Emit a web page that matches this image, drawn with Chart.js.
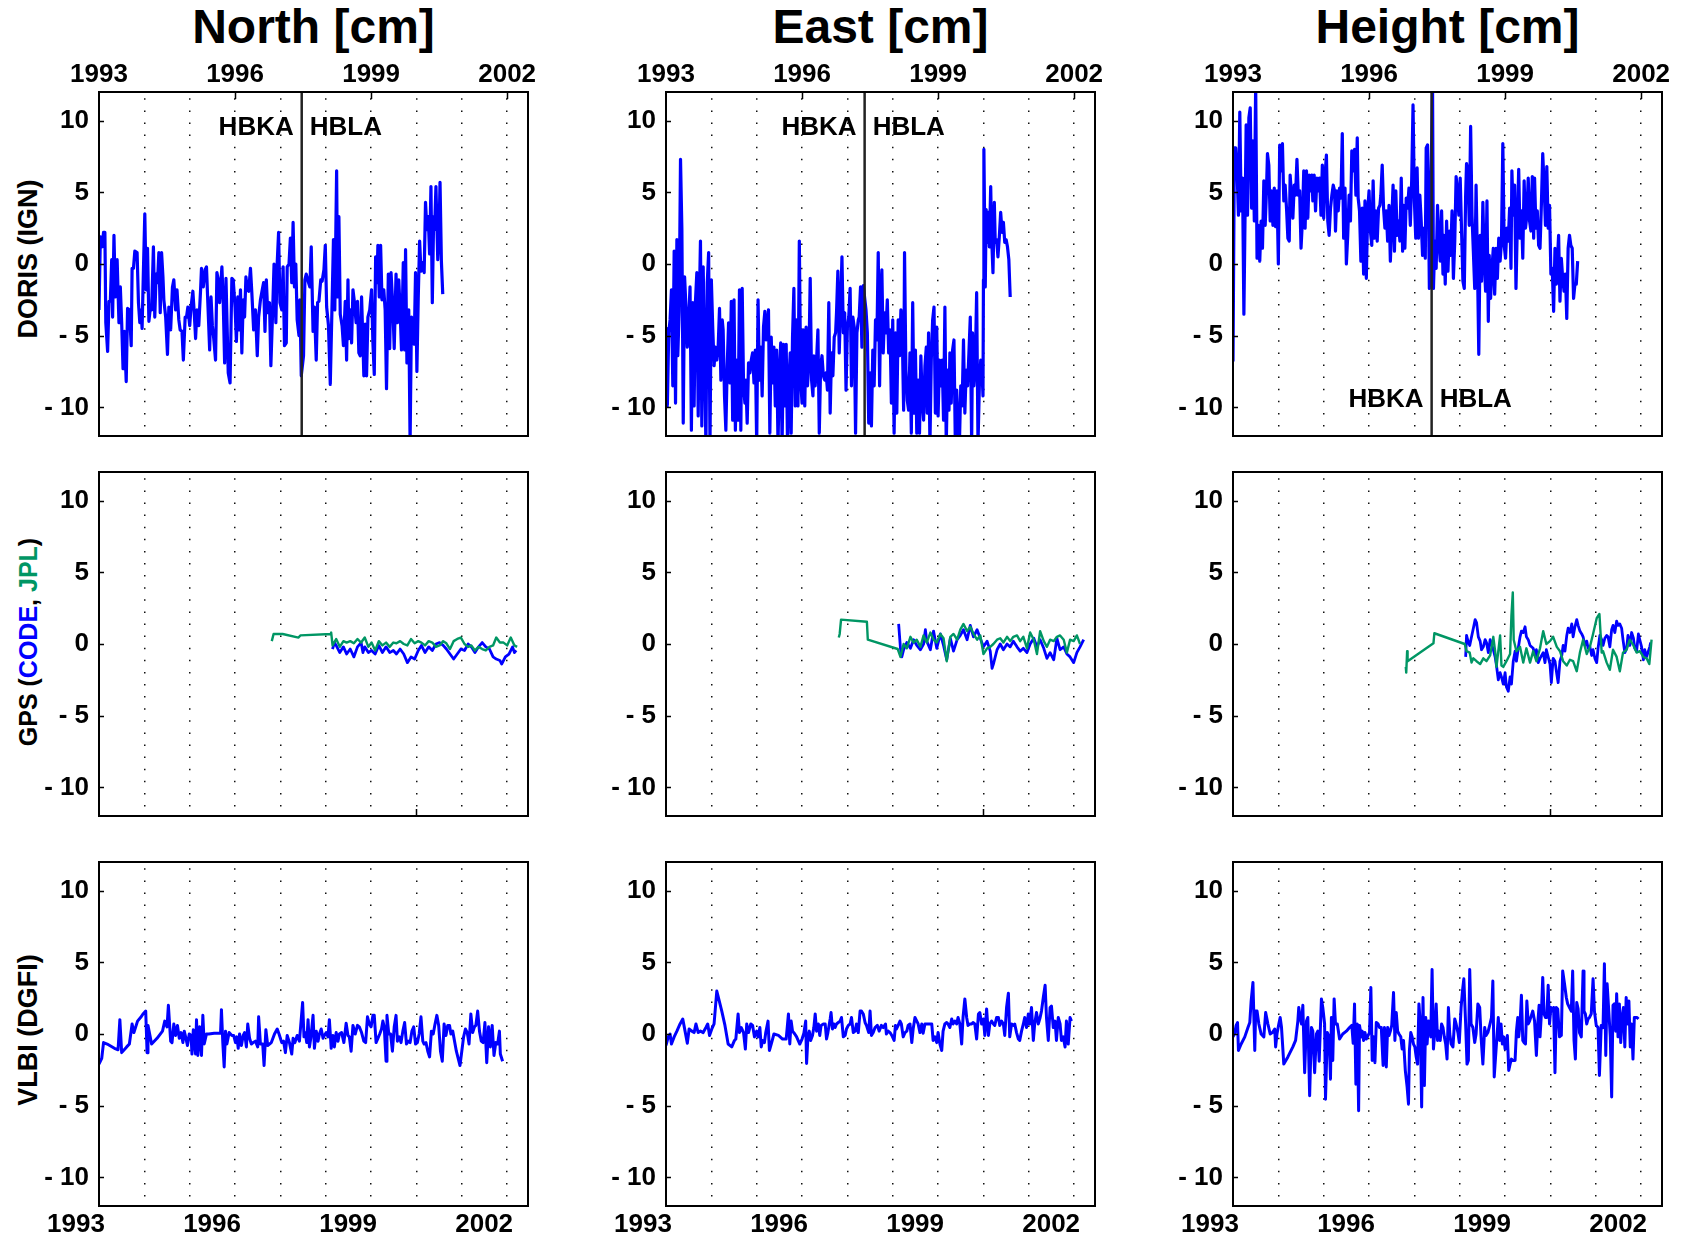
<!DOCTYPE html>
<html>
<head>
<meta charset="utf-8">
<script src="https://cdn.jsdelivr.net/npm/chart.js@4/dist/chart.umd.min.js"></script>
<style>
  html, body { margin: 0; padding: 0; background: #fff; width: 1682px; height: 1240px; overflow: hidden; }
  #fig { position: relative; width: 1682px; height: 1240px; font-family: "Liberation Sans", Arial, Helvetica, sans-serif; font-weight: bold; color: #000; }
  .col-title { position: absolute; top: 3px; width: 500px; text-align: center; font-size: 48px; line-height: 1; }
  .row-title { position: absolute; left: 28px; font-size: 27px; line-height: 1; white-space: nowrap; transform: translate(-50%, -50%) rotate(-90deg); }
  .panel { position: absolute; }
  .panel canvas { display: block; }
</style>
</head>
<body>
<div id="fig"></div>
<script>
// ---------- axes / labels ----------
const yTicks = [-10, -5, 0, 5, 10];
const labelYears = [1993, 1996, 1999, 2002];
const gridYears = [1993, 1994, 1995, 1996, 1997, 1998, 1999, 2000, 2001, 2002];
const components = ['North [cm]', 'East [cm]', 'Height [cm]'];
const stations = ['HBKA', 'HBLA'];
const stationChange = [1997.47, 1997.38, 1997.38];
const stationLabelAt = [9.65, 9.65, -9.3];

// ---------- DORIS (IGN) ----------
const northDorisYears = [1993.00,1993.03,1993.07,1993.10,1993.13,1993.15,1993.19,1993.22,1993.25,1993.28,
1993.30,1993.33,1993.36,1993.39,1993.40,1993.44,1993.47,1993.50,1993.53,1993.56,
1993.60,1993.63,1993.67,1993.71,1993.73,1993.76,1993.79,1993.84,1993.87,1993.90,
1993.93,1993.95,1993.98,1994.01,1994.04,1994.07,1994.10,1994.13,1994.16,1994.20,
1994.23,1994.26,1994.29,1994.32,1994.35,1994.38,1994.41,1994.43,1994.47,1994.51,
1994.54,1994.58,1994.62,1994.65,1994.69,1994.72,1994.76,1994.79,1994.83,1994.86,
1994.90,1994.93,1994.96,1995.00,1995.03,1995.07,1995.10,1995.13,1995.16,1995.20,
1995.24,1995.26,1995.30,1995.34,1995.37,1995.40,1995.44,1995.47,1995.50,1995.53,
1995.57,1995.60,1995.63,1995.66,1995.71,1995.74,1995.77,1995.80,1995.85,1995.89,
1995.93,1995.96,1996.00,1996.03,1996.06,1996.09,1996.12,1996.15,1996.18,1996.21,
1996.24,1996.27,1996.30,1996.34,1996.37,1996.41,1996.45,1996.49,1996.52,1996.56,
1996.60,1996.63,1996.66,1996.69,1996.72,1996.76,1996.79,1996.83,1996.86,1996.90,
1996.93,1996.96,1996.99,1997.03,1997.06,1997.09,1997.13,1997.15,1997.19,1997.22,
1997.25,1997.28,1997.31,1997.34,1997.37,1997.41,1997.43,1997.46,1997.51,1997.54,
1997.57,1997.62,1997.65,1997.68,1997.72,1997.75,1997.79,1997.82,1997.85,1997.89,
1997.92,1997.96,1997.99,1998.02,1998.06,1998.10,1998.14,1998.17,1998.20,1998.24,
1998.26,1998.29,1998.32,1998.36,1998.39,1998.43,1998.46,1998.49,1998.51,1998.54,
1998.57,1998.60,1998.63,1998.67,1998.70,1998.73,1998.76,1998.79,1998.82,1998.84,
1998.87,1998.90,1998.93,1998.97,1999.01,1999.04,1999.07,1999.10,1999.13,1999.15,
1999.18,1999.21,1999.24,1999.28,1999.31,1999.34,1999.38,1999.41,1999.44,1999.48,
1999.51,1999.55,1999.58,1999.61,1999.64,1999.67,1999.71,1999.74,1999.76,1999.79,
1999.83,1999.86,1999.89,1999.92,1999.95,1999.98,2000.01,2000.04,2000.07,2000.10,
2000.14,2000.17,2000.20,2000.23,2000.26,2000.29,2000.32,2000.35,2000.38,2000.40,
2000.43,2000.47,2000.50,2000.52,2000.55,2000.58];
const northDorisCm = [-3.2,1.9,1.2,2.2,2.2,-4.1,-6.1,-2.6,-2.6,0.3,
-3.7,2.0,-2.3,-0.2,0.3,-4.1,-1.6,-4.1,-7.3,-4.7,
-8.2,-3.1,-3.2,-5.7,-0.3,-0.3,0.9,0.8,-2.7,-4.1,
-3.2,-4.5,-0.4,3.5,-1.8,1.1,-4.0,-3.1,-3.2,1.2,
-3.7,-0.7,-1.3,0.8,-3.4,0.8,-0.9,-2.5,-3.7,-6.3,
-3.0,-4.6,-1.6,-1.1,-3.2,-1.8,-3.9,-4.6,-4.7,-6.7,
-3.7,-3.7,-3.0,-4.3,-3.0,-1.9,-3.4,-5.2,-3.2,-4.3,
-1.8,-0.3,-1.6,-0.4,-0.2,-2.7,-6.0,-2.3,-4.3,-5.2,
-6.7,-0.6,-1.1,-2.7,-0.2,-2.7,-6.9,-1.0,-7.6,-8.3,
-1.0,-1.1,-3.0,-5.4,-2.3,-4.6,-1.8,-6.2,-2.5,-3.7,
-0.9,-1.8,-1.9,-0.3,-2.0,-4.6,-3.2,-6.4,-3.7,-2.5,
-1.8,-1.3,-4.7,-1.1,-3.4,-2.7,-7.1,-3.2,0.0,-4.1,
0.1,2.2,-2.7,-3.2,-0.2,-5.7,-5.5,-0.2,0.0,1.8,
-1.3,2.9,-1.6,0.0,-3.9,-5.0,-2.5,-7.8,-6.4,-1.1,
-0.7,-1.3,-1.6,1.2,-4.7,-3.0,-6.7,-2.7,-2.6,-1.1,
-1.2,-0.4,1.3,-3.0,-4.3,-8.4,-2.7,1.7,-3.2,6.5,
-2.3,3.3,-3.5,-4.3,-5.7,-2.6,-6.7,-1.1,-5.2,-3.2,
-5.5,-1.8,-2.6,-4.1,-2.6,-6.2,-6.4,-2.3,-5.5,-7.8,
-4.2,-7.8,-3.7,-3.2,-1.8,-5.5,-7.7,0.5,-1.3,1.3,
-2.3,1.3,-2.5,-1.8,-3.2,-8.7,-0.7,-5.9,-0.6,-3.0,
-5.9,-0.7,-4.1,-1.1,-3.2,-6.0,0.1,-6.0,1.0,-6.9,
-3.2,-12.4,-3.7,-3.9,-5.6,-0.6,-7.5,-2.3,1.6,-0.5,
0.1,-0.6,4.3,2.4,3.3,0.7,5.4,-2.7,3.3,2.4,
5.4,0.3,2.4,5.7,0.2,-2.1];

const eastDorisYears = [
1993.00,1993.03,1993.06,1993.09,1993.12,1993.15,1993.18,1993.21,1993.24,1993.26,1993.29,1993.32,1993.35,1993.38,1993.41,1993.44,1993.47,1993.50,1993.53,1993.56,1993.59,1993.62,1993.65,1993.68,1993.71,1993.74,1993.76,1993.79,1993.82,1993.85,1993.88,1993.91,1993.94,1993.97,
1994.00,1994.03,1994.06,1994.09,1994.12,1994.15,1994.18,1994.21,1994.24,1994.26,1994.29,1994.32,1994.35,1994.38,1994.41,1994.44,1994.47,1994.50,1994.53,1994.56,1994.59,1994.62,1994.65,1994.68,1994.71,1994.74,1994.76,1994.79,1994.82,1994.85,1994.88,1994.91,1994.94,1994.97,
1995.00,1995.03,1995.06,1995.09,1995.12,1995.15,1995.18,1995.21,1995.24,1995.26,1995.29,1995.32,1995.35,1995.38,1995.41,1995.44,1995.47,1995.50,1995.53,1995.56,1995.59,1995.62,1995.65,1995.68,1995.71,1995.74,1995.76,1995.79,1995.82,1995.85,1995.88,1995.91,1995.94,1995.97,
1996.00,1996.03,1996.06,1996.09,1996.12,1996.15,1996.18,1996.21,1996.24,1996.26,1996.29,1996.32,1996.35,1996.38,1996.41,1996.44,1996.47,1996.50,1996.53,1996.56,1996.59,1996.62,1996.65,1996.68,1996.71,1996.74,1996.76,1996.79,1996.82,1996.85,1996.88,1996.91,1996.94,1996.97,
1997.00,1997.03,1997.06,1997.09,1997.12,1997.15,1997.18,1997.21,1997.24,1997.26,1997.29,1997.32,1997.35,
1997.41,1997.44,1997.47,1997.50,1997.53,1997.56,1997.59,1997.62,1997.65,1997.68,1997.71,1997.74,1997.76,1997.79,1997.82,1997.85,1997.88,1997.91,1997.94,1997.97,
1998.00,1998.03,1998.06,1998.09,1998.12,1998.15,1998.18,1998.21,1998.24,1998.26,1998.29,1998.32,1998.35,1998.38,1998.41,1998.44,1998.47,1998.50,1998.53,1998.56,1998.59,1998.62,1998.65,1998.68,1998.71,1998.74,1998.76,1998.79,1998.82,1998.85,1998.88,1998.91,1998.94,1998.97,
1999.00,1999.03,1999.06,1999.09,1999.12,1999.15,1999.18,1999.21,1999.24,1999.26,1999.29,1999.32,1999.35,1999.38,1999.41,1999.44,1999.47,1999.50,1999.53,1999.56,1999.59,1999.62,1999.65,1999.68,1999.71,1999.74,1999.76,1999.79,1999.82,1999.85,1999.88,1999.91,1999.94,1999.97,
1999.99,2000.00,2000.01,2000.04,2000.06,2000.09,2000.11,2000.13,2000.16,2000.18,2000.21,2000.24,2000.26,2000.29,2000.32,2000.35,2000.38,2000.41,2000.44,2000.47,2000.50,2000.53,2000.56,2000.59];
const eastDorisCm = [
-4.4,-9.9,-4.8,-3.9,-1.8,-8.5,0.9,-9.7,1.7,-6.4,-3.3,7.3,2.4,-11.1,-0.9,-3.0,-5.8,-3.9,-1.6,-11.6,-2.7,-9.9,-2.6,-0.6,-10.6,-1.8,1.6,-11.3,-0.2,-6.2,-12.6,-1.3,0.8,-12.6,
-1.1,-4.4,-7.1,-5.8,-6.7,-5.8,-3.1,-8.1,-3.9,-4.6,-9.2,-11.6,-7.1,-4.1,-8.3,-2.6,-10.9,-2.5,-11.6,-6.7,-10.9,-1.8,-11.6,-1.7,-8.5,-9.7,-8.1,-11.1,-6.9,-7.6,-6.7,-6.2,-8.3,-6.0,
-12.6,-2.5,-8.1,-5.8,-9.2,-4.4,-3.3,-5.3,-4.1,-3.2,-11.8,-5.1,-8.3,-5.8,-9.9,-6.0,-12.6,-7.6,-5.5,-12.6,-5.6,-9.9,-5.6,-12.6,-8.1,-6.2,-11.8,-5.1,-1.7,-9.9,-3.9,-9.9,1.6,-8.1,
-9.7,-4.6,-9.9,-4.4,-8.5,-6.9,-1.0,-8.1,-9.2,-6.4,-8.5,-6.7,-4.6,-11.8,-7.1,-6.4,-7.8,-8.1,-7.6,-8.8,-2.7,-10.4,-6.2,-7.8,-5.1,-4.8,-3.4,-0.5,-6.2,-3.0,0.5,-4.8,-3.4,-8.8,
-4.4,-3.7,-1.7,-8.5,-3.7,-4.4,-11.8,-4.8,-3.9,-3.7,-1.6,-5.8,-1.5,
-3.2,-4.8,-11.1,-7.6,-11.3,-6.0,-8.5,-3.9,-5.3,0.8,-8.5,-1.8,-0.4,-6.2,-3.4,-4.8,-2.5,-6.2,-4.6,-9.7,
-3.9,-11.8,-4.8,-10.4,-3.9,-6.4,-3.2,-4.8,-10.2,0.8,-7.4,-9.5,-10.2,-6.2,-11.8,-2.7,-10.4,-6.0,-11.8,-8.1,-11.8,-6.4,-9.5,-10.9,-7.1,-5.8,-10.4,-4.8,-12.6,-6.7,-3.9,-3.0,-10.4,-4.4,
-10.6,-6.7,-8.5,-6.7,-10.9,-3.0,-12.6,-7.4,-10.2,-6.2,-9.7,-6.0,-5.3,-12.6,-8.8,-11.3,-12.6,-8.5,-9.9,-5.3,-10.4,-7.4,-8.5,-6.2,-3.7,-12.6,-4.8,-8.5,-7.1,-2.0,-12.6,-8.5,-6.7,-7.6,
-9.2,-1.1,8.0,-1.6,3.8,1.5,3.6,1.2,5.4,1.9,-0.6,4.3,1.5,1.7,0.5,1.9,3.6,2.2,2.9,1.5,1.7,1.2,0.3,-2.3];

const heightDorisYears = [
1993.00,1993.03,1993.06,1993.09,1993.12,1993.15,1993.18,1993.21,1993.24,1993.26,1993.29,1993.32,1993.35,1993.38,1993.41,1993.44,1993.47,1993.50,1993.53,1993.56,1993.59,1993.62,1993.65,1993.68,1993.71,1993.74,1993.76,1993.79,1993.82,1993.85,1993.88,1993.91,1993.94,1993.97,
1994.00,1994.03,1994.06,1994.09,1994.12,1994.15,1994.18,1994.21,1994.24,1994.26,1994.29,1994.32,1994.35,1994.38,1994.41,1994.44,1994.47,1994.50,1994.53,1994.56,1994.59,1994.62,1994.65,1994.68,1994.71,1994.74,1994.76,1994.79,1994.82,1994.85,1994.88,1994.91,1994.94,1994.97,
1995.00,1995.03,1995.06,1995.09,1995.12,1995.15,1995.18,1995.21,1995.24,1995.26,1995.29,1995.32,1995.35,1995.38,1995.41,1995.44,1995.47,1995.50,1995.53,1995.56,1995.59,1995.62,1995.65,1995.68,1995.71,1995.74,1995.76,1995.79,1995.82,1995.85,1995.88,1995.91,1995.94,1995.97,
1996.00,1996.03,1996.06,1996.09,1996.12,1996.15,1996.18,1996.21,1996.24,1996.26,1996.29,1996.32,1996.35,1996.38,1996.41,1996.44,1996.47,1996.50,1996.53,1996.56,1996.59,1996.62,1996.65,1996.68,1996.71,1996.74,1996.76,1996.79,1996.82,1996.85,1996.88,1996.91,1996.94,1996.97,
1997.00,1997.03,1997.06,1997.09,1997.12,1997.15,1997.18,1997.21,1997.24,1997.26,1997.29,1997.31,1997.33,
1997.40,1997.42,1997.45,1997.48,1997.51,1997.54,1997.57,1997.60,1997.63,1997.65,1997.68,1997.71,1997.74,1997.77,1997.80,1997.83,1997.86,1997.89,1997.92,1997.95,1997.98,
1998.01,1998.04,1998.07,1998.10,1998.13,1998.15,1998.18,1998.21,1998.24,1998.27,1998.30,1998.33,1998.36,1998.39,1998.42,1998.45,1998.48,1998.51,1998.54,1998.57,1998.60,1998.63,1998.65,1998.68,1998.71,1998.74,1998.77,1998.80,1998.83,1998.86,1998.89,1998.92,1998.95,1998.98,
1999.01,1999.04,1999.07,1999.10,1999.13,1999.15,1999.18,1999.21,1999.24,1999.27,1999.30,1999.33,1999.36,1999.39,1999.42,1999.45,1999.48,1999.51,1999.54,1999.57,1999.60,1999.63,1999.65,1999.68,1999.71,1999.74,1999.77,1999.80,1999.83,1999.86,1999.89,1999.92,1999.95,1999.98,
2000.01,2000.04,2000.07,2000.10,2000.13,2000.15,2000.18,2000.21,2000.24,2000.27,2000.30,2000.33,2000.36,2000.39,2000.42,2000.45,2000.48,2000.51,2000.54,2000.57,2000.60];
const heightDorisCm = [
-6.8,8.1,8.1,6.5,3.4,10.6,3.7,6.0,-3.5,1.8,9.7,3.4,10.2,10.9,3.9,8.6,3.0,12.5,0.4,2.7,0.2,3.0,1.1,5.8,2.7,5.3,7.7,6.9,3.0,5.1,2.7,5.3,2.6,5.1,
0.0,8.3,6.5,8.4,4.4,5.5,3.9,1.8,1.6,6.2,4.8,3.2,5.5,4.8,7.3,4.8,5.1,1.1,3.0,6.5,2.5,6.5,3.2,6.2,5.1,6.2,4.4,6.2,3.7,6.0,5.1,6.0,3.4,6.9,
3.2,6.2,7.6,3.0,2.0,3.9,4.8,5.5,5.1,2.3,5.1,3.7,5.3,4.6,9.1,1.8,5.3,0.0,2.0,4.8,3.0,7.9,6.5,8.0,4.8,8.8,4.6,3.7,0.2,3.9,-0.7,4.4,-1.0,3.7,
5.1,2.3,1.3,5.8,1.8,3.7,1.6,3.9,4.1,4.8,6.9,3.9,2.5,3.7,1.6,4.1,0.2,3.0,5.5,0.9,5.1,2.0,3.0,1.6,6.0,0.9,4.1,1.1,4.6,3.9,5.3,2.7,5.8,11.1,
4.4,1.8,6.7,1.8,4.8,3.0,0.6,2.5,0.4,8.1,8.3,4.4,-1.7,
12.5,-1.7,1.6,-0.3,4.1,1.6,0.2,3.7,-0.7,2.0,-1.4,3.0,-0.5,2.3,0.6,3.7,-1.0,1.6,6.1,5.1,3.4,
6.0,2.3,-1.2,-1.7,4.8,7.0,6.5,2.7,9.6,3.4,0.9,-1.7,5.5,0.2,-6.3,2.0,-1.2,4.3,0.2,-1.9,4.4,-4.0,0.6,-2.4,-0.3,1.1,-2.1,1.1,-1.0,1.8,0.2,1.6,8.4,1.3,
0.4,2.5,1.6,3.9,-0.3,6.5,3.4,5.5,-1.7,2.7,6.6,1.8,3.7,0.4,5.8,2.5,3.4,6.0,3.0,2.3,6.1,1.8,6.0,2.5,3.7,1.3,1.1,4.1,7.7,5.5,2.7,6.8,2.5,4.1,
-0.7,-0.3,-3.3,1.1,-1.4,0.0,2.0,-2.6,0.4,-1.0,-1.9,-0.7,-3.8,1.1,2.0,1.3,1.1,-2.4,-1.4,-1.4,0.2];

// ---------- GPS (CODE, JPL) ----------
const northJplYears = [1996.81,1996.85,1997.05,1997.40,1997.44,1998.11,1998.12,
1998.15,1998.23,1998.31,1998.39,1998.46,1998.54,1998.62,1998.70,1998.78,1998.86,1998.94,1999.01,1999.09,1999.17,1999.25,1999.33,1999.41,1999.49,1999.56,1999.64,1999.72,1999.80,1999.88,1999.96,
2000.04,2000.11,2000.19,2000.27,2000.35,2000.43,2000.51,2000.59,2000.66,2000.74,2000.82,2000.90,2000.98,2001.06,2001.14,2001.21,2001.29,2001.37,2001.45,2001.53,2001.61,2001.69,2001.76,2001.84,2001.92,2002.00,2002.08,2002.16,2002.22];
const northJplCm = [0.2,0.7,0.7,0.45,0.6,0.7,0.8,
-0.1,0.35,-0.2,0.2,0.1,0.2,0.05,0.35,0.1,0.45,-0.2,0.1,-0.45,0.2,-0.1,0.1,-0.2,0.1,0.05,0.2,0.0,-0.1,0.35,0.05,
0.2,0.1,-0.1,0.2,0.1,-0.2,-0.1,0.2,0.05,-0.35,0.2,0.35,0.45,0.0,-0.2,-0.1,-0.45,-0.2,-0.35,-0.45,-0.2,-0.1,0.45,0.1,0.1,-0.1,0.45,-0.1,-0.2];
const northCodeYears = [1998.15,1998.19,1998.23,1998.31,1998.39,1998.46,1998.54,1998.62,1998.70,1998.78,1998.82,1998.86,1998.94,1999.01,1999.09,1999.17,1999.25,1999.33,1999.41,1999.49,1999.56,1999.64,1999.72,1999.80,1999.88,1999.96,
2000.04,2000.11,2000.19,2000.27,2000.35,2000.43,2000.51,2000.59,2000.66,2000.74,2000.82,2000.90,2000.98,2001.06,2001.14,2001.21,2001.29,2001.37,2001.45,2001.53,2001.61,2001.69,2001.76,2001.84,2001.88,2001.96,2002.04,2002.12,2002.16,2002.20];
const northCodeCm = [-0.35,0.1,-0.1,-0.6,-0.2,-0.7,-0.35,-0.9,-0.2,0.1,-0.6,-0.2,-0.6,-0.45,-0.7,-0.1,-0.6,-0.2,-0.6,-0.45,-0.7,-0.35,-0.7,-1.3,-0.9,-1.05,
-0.45,-0.1,-0.6,-0.2,-0.45,0.0,0.1,-0.1,-0.35,-0.7,-1.05,-0.7,-0.35,-0.45,0.0,-0.2,-0.6,-0.2,0.1,-0.2,-0.35,-0.9,-1.05,-1.15,-1.4,-0.9,-0.7,-0.2,-0.6,-0.45];

const eastJplYears = [1996.81,1996.83,1996.86,1997.43,1997.45,1998.11,
1998.17,1998.24,1998.31,1998.39,1998.46,1998.53,1998.61,1998.68,1998.75,1998.83,1998.90,1998.97,1999.05,1999.12,1999.19,1999.27,1999.34,1999.42,1999.49,1999.56,1999.64,1999.71,1999.78,1999.86,1999.93,
2000.00,2000.08,2000.15,2000.22,2000.30,2000.37,2000.44,2000.52,2000.59,2000.66,2000.74,2000.81,2000.88,2000.96,2001.03,2001.11,2001.18,2001.25,2001.33,2001.40,2001.47,2001.55,2001.62,2001.69,2001.77,2001.84,2001.91,2001.99,2002.06,2002.13];
const eastJplCm = [0.45,0.7,1.7,1.55,0.3,-0.35,
-0.9,0.0,-0.3,0.5,0.1,0.3,-0.2,0.6,0.1,0.8,0.3,0.1,0.7,0.4,-1.2,0.5,0.7,0.3,1.0,1.4,0.9,1.2,0.7,0.3,0.6,
-0.7,-0.3,-0.2,0.0,0.3,0.4,0.1,0.5,0.2,0.5,0.6,0.2,0.5,-0.3,0.8,0.3,-0.7,0.9,0.2,-0.2,0.3,0.2,0.5,0.6,0.3,-0.6,0.3,0.2,0.6,0.0];
const eastCodeYears = [1998.13,1998.17,1998.20,1998.24,1998.31,1998.39,1998.46,1998.53,1998.61,1998.68,1998.72,1998.75,1998.83,1998.90,1998.97,1999.05,1999.12,1999.19,1999.27,1999.34,1999.42,1999.49,1999.56,1999.64,1999.71,1999.78,1999.86,1999.93,
2000.00,2000.08,2000.15,2000.19,2000.22,2000.30,2000.37,2000.44,2000.52,2000.59,2000.66,2000.74,2000.81,2000.88,2000.96,2001.03,2001.11,2001.18,2001.25,2001.33,2001.40,2001.47,2001.55,2001.62,2001.69,2001.77,2001.84,2001.91,2001.99,2002.06,2002.13,2002.21];
const eastCodeCm = [1.4,-0.3,-0.9,-0.4,0.1,-0.3,0.3,-0.1,-0.4,0.0,1.0,0.2,-0.4,0.9,-0.3,0.7,-0.1,-1.1,0.4,-0.5,0.3,0.6,1.0,0.3,1.3,0.5,1.0,0.4,
-0.2,0.2,-0.5,-1.7,-1.4,-0.4,0.0,-0.4,0.0,-0.2,0.2,-0.2,-0.5,-0.3,-0.6,0.0,0.4,-0.2,0.3,-0.3,-1.0,-0.6,-1.1,0.4,-0.4,-0.2,-0.7,-0.9,-1.3,-0.6,-0.2,0.3];

const heightJplYears = [1996.81,1996.82,1996.84,1996.85,1997.42,1997.44,1998.11,
1998.15,1998.22,1998.26,1998.30,1998.37,1998.45,1998.52,1998.59,1998.67,1998.74,1998.78,1998.81,1998.89,1998.92,1998.96,1999.03,1999.11,1999.14,1999.17,1999.19,1999.25,1999.33,1999.40,1999.47,1999.55,1999.62,1999.69,1999.77,1999.84,1999.91,1999.99,
2000.06,2000.14,2000.21,2000.28,2000.36,2000.43,2000.50,2000.58,2000.65,2000.72,2000.80,2000.87,2000.94,2001.02,2001.08,2001.13,2001.16,2001.24,2001.31,2001.38,2001.46,2001.53,2001.60,2001.68,2001.75,2001.83,2001.90,2001.97,2002.05,2002.12,2002.18,2002.23];
const heightJplCm = [-1.6,-2.0,-0.5,-1.2,0.05,0.75,0.0,
-0.5,-0.6,-1.3,-1.0,-1.2,-1.4,-1.0,-1.2,-0.8,0.5,-0.5,-1.6,0.6,-1.5,-1.6,-1.2,-0.7,2.0,3.6,0.3,-0.5,-0.2,-1.3,-0.3,-1.3,-0.5,-1.2,-0.3,0.9,0.0,0.2,
0.5,-0.2,-0.5,-1.2,-1.5,-1.1,-1.2,-1.9,-0.6,0.3,-0.7,-0.2,0.7,1.8,2.1,-0.6,-0.5,-1.3,-1.8,-0.4,-0.9,-1.9,-0.6,-0.4,0.3,-0.1,-0.6,-0.5,-0.9,-1.0,-1.4,0.3];
const heightCodeYears = [1998.13,1998.15,1998.19,1998.22,1998.26,1998.30,1998.34,1998.37,1998.41,1998.45,1998.48,1998.52,1998.56,1998.59,1998.63,1998.67,1998.74,1998.78,1998.81,1998.85,1998.89,1998.92,1998.96,
1999.00,1999.03,1999.07,1999.11,1999.14,1999.18,1999.22,1999.25,1999.29,1999.33,1999.36,1999.40,1999.44,1999.47,1999.51,1999.55,1999.62,1999.66,1999.69,1999.73,1999.77,1999.84,1999.88,1999.91,1999.99,
2000.02,2000.06,2000.10,2000.14,2000.17,2000.21,2000.25,2000.28,2000.32,2000.36,2000.39,2000.43,2000.47,2000.50,2000.54,2000.58,2000.61,2000.65,2000.69,2000.72,2000.76,2000.80,2000.83,2000.87,2000.91,2000.94,2000.98,
2001.02,2001.05,2001.09,2001.13,2001.16,2001.20,2001.24,2001.27,2001.31,2001.35,2001.38,2001.42,2001.46,2001.49,2001.53,2001.57,2001.60,2001.64,2001.68,2001.71,2001.75,2001.79,2001.83,2001.86,2001.90,2001.94,2001.97,
2002.01,2002.05,2002.08,2002.12,2002.16,2002.19,2002.21];
const heightCodeCm = [-0.9,0.6,0.1,-0.1,0.5,1.1,1.7,1.5,0.5,0.2,-0.4,-0.2,0.3,0.1,-0.6,0.3,-0.4,-0.9,-1.5,-2.5,-2.0,-2.3,-2.8,
-2.0,-3.0,-3.3,-2.3,-2.8,-1.2,-0.5,-1.2,-0.3,0.5,0.9,0.8,1.2,0.5,0.3,-0.1,-0.3,-0.8,-0.4,-1.3,-1.0,-0.6,-1.3,-0.4,-1.4,
-2.7,-1.0,-1.2,-2.1,-2.7,-1.2,-0.8,-0.1,-0.5,0.6,1.1,0.8,1.4,0.5,1.2,1.7,1.3,0.9,0.7,0.5,-0.1,0.2,-0.3,-0.2,-0.8,-0.4,-1.0,
-1.3,-0.3,0.6,0.3,-0.1,0.4,0.6,0.5,-0.2,1.0,1.3,0.8,1.6,1.3,1.4,1.1,0.3,-0.6,-0.3,0.6,-0.1,0.8,0.4,-0.3,-0.5,0.7,0.3,
-0.2,-1.1,-0.4,-0.9,-0.5,-0.2,0.1];

// ---------- VLBI (DGFI) ----------
const northVlbiYears = [1993.00,1993.06,1993.10,1993.18,1993.34,1993.42,1993.46,1993.50,1993.61,1993.67,
1993.73,1993.77,1993.85,1993.93,1993.97,1994.03,1994.06,1994.08,1994.16,1994.28,
1994.40,1994.45,1994.50,1994.53,1994.58,1994.61,1994.65,1994.69,1994.73,1994.77,
1994.81,1994.85,1994.88,1994.91,1994.95,1994.99,1995.03,1995.05,1995.08,1995.13,
1995.15,1995.18,1995.22,1995.26,1995.29,1995.32,1995.37,1995.42,1995.54,1995.68,
1995.70,1995.73,1995.76,1995.79,1995.82,1995.87,1995.93,1995.97,1996.01,1996.04,
1996.07,1996.10,1996.14,1996.18,1996.21,1996.25,1996.28,1996.32,1996.36,1996.40,
1996.45,1996.50,1996.52,1996.56,1996.61,1996.64,1996.68,1996.72,1996.80,1996.87,
1996.93,1996.97,1997.03,1997.07,1997.11,1997.15,1997.20,1997.25,1997.28,1997.32,
1997.37,1997.42,1997.49,1997.52,1997.55,1997.58,1997.61,1997.64,1997.67,1997.72,
1997.75,1997.79,1997.83,1997.86,1997.90,1997.94,1997.97,1998.01,1998.05,1998.08,
1998.12,1998.16,1998.19,1998.23,1998.27,1998.30,1998.35,1998.40,1998.45,1998.49,
1998.52,1998.56,1998.60,1998.65,1998.70,1998.74,1998.79,1998.84,1998.88,1998.92,
1998.96,1999.00,1999.04,1999.07,1999.11,1999.15,1999.19,1999.23,1999.26,1999.29,
1999.33,1999.35,1999.39,1999.43,1999.47,1999.51,1999.55,1999.58,1999.62,1999.66,
1999.70,1999.74,1999.78,1999.82,1999.86,1999.90,1999.94,1999.98,2000.02,2000.06,
2000.10,2000.14,2000.17,2000.21,2000.25,2000.29,2000.33,2000.37,2000.41,2000.45,
2000.49,2000.53,2000.57,2000.61,2000.65,2000.69,2000.73,2000.76,2000.80,2000.88,
2000.96,2001.00,2001.04,2001.08,2001.12,2001.16,2001.20,2001.24,2001.28,2001.31,
2001.35,2001.39,2001.43,2001.47,2001.51,2001.55,2001.59,2001.63,2001.67,2001.71,
2001.75,2001.79,2001.83,2001.85,2001.90];
const northVlbiCm = [-2.1,-1.7,-0.6,-0.7,-1.0,-1.1,1.0,-1.3,-0.9,-0.7,
0.7,0.1,0.9,1.2,1.4,1.6,-1.3,0.6,-0.7,-0.3,
0.2,0.9,0.5,2.0,-0.5,-0.6,0.7,-0.1,0.6,-0.3,
0.1,-0.6,0.2,-0.2,-0.8,0.0,-0.1,-1.4,0.3,-1.4,
1.0,-1.5,0.5,-1.5,1.3,-0.7,0.0,0.0,0.05,0.05,
1.7,-0.6,-2.3,0.2,-0.7,0.1,-0.1,-0.1,-0.6,-0.2,
-1.0,0.0,-0.8,-0.1,0.1,-0.9,0.7,-0.3,-0.7,-0.6,
-0.5,-0.9,1.2,-0.7,-0.7,-2.2,0.3,-0.8,-0.6,0.0,
0.35,0.0,-0.6,-0.5,-1.3,-0.1,-0.6,-1.4,-0.3,-0.6,
-0.1,-0.5,2.2,-0.2,0.1,-0.6,1.0,-0.9,-0.3,1.3,
-1.0,0.2,-0.5,0.0,0.35,-0.3,-0.1,0.1,-0.2,1.0,
-1.0,-0.1,-0.9,0.1,-0.5,0.0,0.1,-0.6,0.75,-0.1,
-0.2,-1.2,0.6,0.0,0.6,0.5,0.1,-0.5,-0.6,1.2,
0.7,0.5,1.3,1.3,-0.6,-0.3,0.0,0.35,0.9,0.5,
-1.9,1.3,0.0,0.0,-1.2,0.5,1.3,-0.5,-0.2,-0.6,
0.2,0.8,-0.7,-0.5,-0.6,0.2,0.5,-0.7,-0.6,0.0,
1.2,-0.5,-0.7,-0.6,-1.2,-1.6,0.2,0.0,0.7,1.3,
0.6,-1.2,-1.9,0.7,-0.1,0.6,0.6,0.0,0.2,-1.2,
-2.2,-1.2,-0.2,0.35,0.1,-0.7,1.4,0.1,0.5,0.6,
1.6,0.2,-0.5,-0.6,0.8,-2.0,0.5,-0.9,0.6,-1.5,
-0.6,-0.7,0.2,-1.4,-1.9];

const eastVlbiYears = [1993.00,1993.05,1993.09,1993.12,1993.18,1993.24,1993.31,1993.37,1993.42,1993.47,
1993.51,1993.57,1993.62,1993.66,1993.71,1993.76,1993.82,1993.88,1993.92,1993.96,
1994.01,1994.06,1994.12,1994.23,1994.30,1994.37,1994.45,1994.51,1994.54,1994.59,
1994.62,1994.66,1994.71,1994.75,1994.78,1994.82,1994.87,1994.91,1994.95,1995.00,
1995.03,1995.07,1995.10,1995.13,1995.17,1995.20,1995.25,1995.28,1995.33,1995.38,
1995.48,1995.57,1995.65,1995.70,1995.73,1995.76,1995.79,1995.84,1995.88,1995.95,
1996.00,1996.04,1996.08,1996.10,1996.13,1996.16,1996.19,1996.23,1996.26,1996.29,
1996.32,1996.36,1996.39,1996.42,1996.47,1996.51,1996.54,1996.57,1996.62,1996.64,
1996.67,1996.70,1996.73,1996.76,1996.80,1996.84,1996.87,1996.91,1996.95,1996.98,
1997.02,1997.06,1997.09,1997.13,1997.17,1997.20,1997.24,1997.28,1997.31,1997.35,
1997.39,1997.42,1997.47,1997.50,1997.53,1997.57,1997.61,1997.66,1997.70,1997.75,
1997.79,1997.84,1997.86,1997.90,1997.94,1997.98,1998.03,1998.06,1998.08,1998.12,
1998.16,1998.19,1998.23,1998.27,1998.31,1998.34,1998.38,1998.42,1998.45,1998.49,
1998.53,1998.56,1998.60,1998.64,1998.67,1998.71,1998.75,1998.82,1998.86,1998.89,
1998.93,1998.97,1999.00,1999.04,1999.08,1999.11,1999.15,1999.19,1999.22,1999.26,
1999.30,1999.33,1999.37,1999.41,1999.44,1999.48,1999.52,1999.55,1999.59,1999.63,
1999.66,1999.70,1999.74,1999.77,1999.81,1999.85,1999.89,1999.92,1999.96,2000.00,
2000.03,2000.07,2000.11,2000.14,2000.18,2000.22,2000.25,2000.29,2000.33,2000.36,
2000.40,2000.44,2000.47,2000.51,2000.55,2000.58,2000.62,2000.66,2000.69,2000.73,
2000.77,2000.80,2000.84,2000.88,2000.91,2000.95,2000.99,2001.02,2001.06,2001.10,
2001.13,2001.17,2001.21,2001.25,2001.28,2001.32,2001.36,2001.39,2001.43,2001.47,
2001.50,2001.54,2001.58,2001.61,2001.65,2001.69,2001.72,2001.76,2001.80,2001.83,
2001.87,2001.91,2001.94];
const eastVlbiCm = [-0.8,-0.2,0.0,-0.7,-0.2,0.2,0.7,1.05,0.2,-0.65,
0.35,0.2,0.1,0.7,0.1,0.2,0.1,0.45,0.7,-0.1,
0.35,0.7,3.0,1.6,0.6,-0.7,-0.9,-0.45,-0.35,1.4,
0.1,0.45,0.1,-1.05,0.7,0.1,0.7,0.6,-0.2,0.2,
-0.2,0.45,-0.9,-0.45,-0.6,0.1,0.9,-1.15,-0.6,0.0,
-0.1,-0.35,-0.35,1.4,-0.7,0.9,0.2,0.0,-0.2,-0.7,
-0.35,0.05,0.9,-2.05,-0.2,0.2,-0.45,-0.1,0.45,1.4,
0.2,0.7,-0.1,0.6,0.7,0.7,-0.35,0.1,1.05,1.5,
0.35,0.7,0.45,0.7,0.8,0.9,1.15,-0.2,-0.1,0.35,
0.6,0.7,1.15,0.1,0.2,0.7,0.1,1.6,1.6,1.4,
0.8,0.6,0.1,1.6,-0.1,0.1,0.45,0.6,0.2,0.6,
0.45,0.7,0.0,0.2,0.1,-0.1,-0.45,0.6,0.35,0.6,
0.9,0.7,-0.2,0.1,0.2,0.6,0.7,-0.6,0.35,1.15,
0.9,0.7,0.1,0.7,0.05,0.7,0.7,0.7,0.7,-0.45,
-0.2,-0.6,0.1,-0.7,-1.15,0.2,0.7,0.8,0.7,0.45,
1.05,0.7,0.9,0.7,1.15,0.7,-0.7,1.15,2.45,1.15,
0.6,0.7,0.7,0.8,0.7,-0.35,1.4,1.5,0.7,1.05,
-0.1,1.75,-0.1,0.7,0.9,0.7,0.6,1.15,1.15,0.6,
0.9,0.7,-0.1,1.85,2.85,-0.2,0.7,0.6,0.7,0.1,
-0.35,-0.45,0.2,0.7,1.15,0.45,1.4,0.7,1.85,-0.45,
0.7,1.5,0.7,1.15,1.6,2.55,3.4,1.15,-0.45,1.85,
1.95,0.45,0.9,-0.45,1.15,0.7,-0.45,-0.2,-0.9,0.9,
-0.7,1.15,0.9];

const heightVlbiYears = [1993.00,1993.04,1993.07,1993.10,1993.12,1993.18,1993.26,1993.33,1993.37,1993.40,
1993.44,1993.48,1993.50,1993.53,1993.57,1993.62,1993.68,1993.72,1993.77,1993.82,
1993.87,1993.92,1993.94,1993.97,1994.01,1994.04,1994.07,1994.12,1994.21,1994.32,
1994.38,1994.43,1994.45,1994.48,1994.51,1994.54,1994.58,1994.62,1994.65,1994.69,
1994.73,1994.76,1994.80,1994.84,1994.87,1994.90,1994.95,1994.98,1995.02,1995.04,
1995.08,1995.12,1995.15,1995.17,1995.20,1995.23,1995.26,1995.30,1995.35,1995.42,
1995.50,1995.57,1995.62,1995.65,1995.68,1995.71,1995.74,1995.77,1995.79,1995.83,
1995.85,1995.88,1995.91,1995.94,1995.98,1996.01,1996.04,1996.07,1996.10,1996.13,
1996.16,1996.20,1996.23,1996.27,1996.31,1996.34,1996.38,1996.41,1996.44,1996.47,
1996.50,1996.54,1996.57,1996.60,1996.63,1996.66,1996.70,1996.73,1996.76,1996.80,
1996.84,1996.87,1996.89,1996.92,1996.95,1996.98,1997.01,1997.04,1997.07,1997.10,
1997.13,1997.16,1997.19,1997.22,1997.25,1997.28,1997.31,1997.34,1997.36,1997.39,
1997.42,1997.45,1997.48,1997.51,1997.54,1997.57,1997.60,1997.63,1997.66,1997.69,
1997.72,1997.75,1997.78,1997.81,1997.85,1997.89,1997.92,1997.96,1997.99,1998.03,
1998.06,1998.09,1998.13,1998.16,1998.19,1998.22,1998.25,1998.29,1998.33,1998.36,
1998.40,1998.44,1998.47,1998.51,1998.55,1998.58,1998.62,1998.66,1998.70,1998.73,
1998.76,1998.79,1998.82,1998.85,1998.88,1998.91,1998.94,1998.97,1999.00,1999.03,
1999.05,1999.08,1999.11,1999.14,1999.17,1999.22,1999.25,1999.28,1999.30,1999.33,
1999.36,1999.39,1999.42,1999.45,1999.48,1999.51,1999.54,1999.58,1999.61,1999.65,
1999.69,1999.72,1999.75,1999.77,1999.80,1999.83,1999.86,1999.89,1999.92,1999.95,
1999.98,2000.01,2000.04,2000.07,2000.10,2000.13,2000.16,2000.20,2000.24,2000.27,
2000.31,2000.35,2000.38,2000.42,2000.46,2000.49,2000.52,2000.55,2000.58,2000.61,
2000.64,2000.68,2000.72,2000.74,2000.77,2000.80,2000.83,2000.86,2000.90,2000.94,
2000.97,2001.01,2001.05,2001.08,2001.12,2001.16,2001.19,2001.22,2001.25,2001.29,
2001.32,2001.35,2001.38,2001.41,2001.44,2001.46,2001.49,2001.52,2001.55,2001.58,
2001.61,2001.64,2001.67,2001.70,2001.73,2001.76,2001.79,2001.82,2001.85,2001.88,
2001.91,2001.94];
const heightVlbiCm = [-0.2,0.1,0.6,0.8,-1.15,-0.7,-0.2,0.45,0.8,2.3,
3.6,-1.15,1.6,1.6,0.7,0.0,-0.2,1.5,0.7,0.0,
0.1,0.35,-0.9,0.0,0.7,1.15,0.45,-2.1,-1.6,-0.9,
-0.45,0.9,1.85,1.15,0.7,2.0,-2.7,0.9,1.15,-4.3,
0.45,0.2,-2.7,0.0,0.2,-1.9,2.45,1.85,0.7,-4.55,
0.1,-0.2,-3.15,1.15,-1.85,2.45,0.7,0.7,-0.35,0.0,
0.2,0.45,0.6,-0.65,2.1,-3.5,0.7,-5.35,0.6,-0.2,
0.2,-0.45,0.1,-0.35,-0.1,0.1,3.25,-1.85,-0.2,-2.0,
0.8,0.7,0.45,0.45,-2.2,0.45,-2.3,0.45,-0.1,0.2,
0.6,2.9,-0.45,1.5,0.2,0.0,-0.2,-1.05,-0.45,-2.55,
-3.7,-4.9,-1.15,0.1,-0.2,-0.7,-0.9,-1.6,-2.1,2.1,
0.7,-5.1,2.55,-3.6,1.15,-0.7,0.9,0.2,-0.2,4.5,
-1.05,0.2,2.1,-0.45,0.2,-0.45,0.7,0.45,-0.2,-0.7,
-1.75,1.85,0.0,-0.7,-0.9,1.05,0.7,0.1,-0.6,1.85,
3.0,3.85,0.7,-2.1,-1.85,4.5,0.7,0.45,-0.6,0.0,
2.1,1.85,-0.2,-2.1,0.45,-0.1,0.1,0.6,1.15,3.7,
-3.0,-1.6,-0.2,1.15,-0.45,0.7,-0.7,-0.2,-1.05,-0.45,
-0.1,-2.55,-2.1,-1.75,-1.85,-1.85,0.2,1.15,-0.2,0.7,
2.7,-0.45,-0.6,-0.7,2.3,0.7,0.9,1.3,1.6,0.9,
-1.5,0.7,2.0,-0.2,1.4,3.95,1.4,1.15,1.15,3.4,
0.7,1.85,1.6,1.85,-2.7,1.85,1.75,-0.2,-0.1,4.4,
3.5,2.55,2.1,1.85,1.6,4.4,-0.45,-1.75,2.2,1.75,
0.1,-0.2,4.4,1.6,1.4,0.7,1.05,1.15,1.4,3.85,
1.6,0.6,0.45,-2.9,0.6,0.45,4.9,-1.5,3.5,1.4,
-0.2,-4.4,2.0,2.1,0.2,2.8,-0.2,2.1,-0.6,1.15,
1.85,-0.9,2.55,0.7,2.3,-0.9,0.7,-1.75,1.15,1.15,
1.15,1.05];

// ---------- drawing ----------
const FONT = '"Liberation Sans", Arial, Helvetica, sans-serif';
Chart.defaults.font.family = FONT;
const BLUE = '#0000ff';
const GREEN = 'rgb(0,150,100)';

const PLOT_L = [99, 666, 1233];
const PLOT_T = [92, 472, 862];
const PW = 429, PH = 344;
const AX_L = 99, AX_T = 92, AX_B = 45, PAD_R = 45;
const X_MIN = 1993, X_MAX = 2002.46, Y_MIN = -12, Y_MAX = 12;

const fig = document.getElementById('fig');

// column headings and row labels
components.forEach((txt, c) => {
  const d = document.createElement('div');
  d.className = 'col-title';
  d.textContent = txt;
  d.style.left = (PLOT_L[c] + PW / 2 - 250) + 'px';
  fig.appendChild(d);
});
const rowLabels = [
  { top: 259, html: 'DORIS (IGN)' },
  { top: 642, html: 'GPS (<span style="color:' + BLUE + '">CODE</span>, <span style="color:' + GREEN + '">JPL</span>)', size: 25 },
  { top: 1030, html: 'VLBI (DGFI)' }
];
rowLabels.forEach(r => {
  const d = document.createElement('div');
  d.className = 'row-title';
  d.innerHTML = r.html;
  d.style.top = r.top + 'px';
  if (r.size) d.style.fontSize = r.size + 'px';
  fig.appendChild(d);
});

// frame, inward ticks and station-change marker
const panelDecor = {
  id: 'panelDecor',
  afterDraw(chart, args, opts) {
    const { ctx, chartArea: a } = chart;
    const x = chart.scales.x, y = chart.scales.y;
    ctx.save();
    if (opts.change) {
      const px = x.getPixelForValue(opts.change.year);
      ctx.strokeStyle = '#222';
      ctx.lineWidth = 2.5;
      ctx.beginPath(); ctx.moveTo(px, a.top); ctx.lineTo(px, a.bottom); ctx.stroke();
      ctx.font = 'bold 26px ' + FONT;
      ctx.fillStyle = '#000';
      ctx.textBaseline = 'alphabetic';
      const by = y.getPixelForValue(opts.change.labelAt) + 0.358 * 26;
      ctx.textAlign = 'right'; ctx.fillText(opts.change.before, px - 8, by);
      ctx.textAlign = 'left'; ctx.fillText(opts.change.after, px + 8, by);
    }
    ctx.strokeStyle = '#000';
    ctx.lineWidth = 1.5;
    ctx.beginPath();
    (opts.topTicks || []).forEach(v => { const px = Math.round(x.getPixelForValue(v)) + 0.5; ctx.moveTo(px, a.top); ctx.lineTo(px, a.top + 7); });
    (opts.bottomTicks || []).forEach(v => { const px = Math.round(x.getPixelForValue(v)) + 0.5; ctx.moveTo(px, a.bottom); ctx.lineTo(px, a.bottom - 7); });
    yTicks.forEach(v => { const py = Math.round(y.getPixelForValue(v)) + 0.5; ctx.moveTo(a.left, py); ctx.lineTo(a.left + 5, py); });
    ctx.stroke();
    ctx.lineWidth = 2;
    ctx.strokeRect(a.left, a.top, a.right - a.left, a.bottom - a.top);
    ctx.restore();
  }
};

function series(years, values, color, width) {
  return {
    data: years.map((t, i) => ({ x: t, y: values[i] })),
    borderColor: color,
    borderWidth: width,
    pointRadius: 0,
    fill: false,
    tension: 0,
    clip: 0,
    borderJoinStyle: 'round'
  };
}

const tickFont = { family: FONT, size: 26, weight: 'bold' };

function panel(row, col, datasets, decor) {
  const box = document.createElement('div');
  box.className = 'panel';
  box.style.left = (PLOT_L[col] - AX_L) + 'px';
  box.style.top = (PLOT_T[row] - AX_T) + 'px';
  const cv = document.createElement('canvas');
  cv.width = AX_L + PW + PAD_R;
  cv.height = AX_T + PH + AX_B;
  box.appendChild(cv);
  fig.appendChild(box);

  new Chart(cv, {
    type: 'line',
    data: { datasets },
    options: {
      responsive: false,
      animation: false,
      events: [],
      layout: { padding: { left: 0, top: 0, right: PAD_R, bottom: 0 } },
      plugins: { legend: { display: false }, tooltip: { enabled: false }, panelDecor: decor },
      scales: {
        x: {
          type: 'linear', position: 'bottom', min: X_MIN, max: X_MAX,
          afterBuildTicks: s => { s.ticks = gridYears.map(v => ({ value: v })); },
          afterFit: s => { s.height = AX_B; },
          ticks: {
            display: row === 2, autoSkip: false, maxRotation: 0, minRotation: 0,
            labelOffset: -23, padding: 3, color: '#000', font: tickFont,
            callback: v => labelYears.includes(v) ? String(v) : ''
          },
          grid: { display: true, drawTicks: false, color: '#111', lineWidth: 1.5 },
          border: { display: false, dash: [1.5, 10.6], dashOffset: -6.3 }
        },
        xTop: {
          type: 'linear', position: 'top', min: X_MIN, max: X_MAX,
          afterBuildTicks: s => { s.ticks = labelYears.map(v => ({ value: v })); },
          afterFit: s => { s.height = AX_T; },
          ticks: { display: row === 0, autoSkip: false, maxRotation: 0, minRotation: 0, padding: 2, color: '#000', font: tickFont, callback: v => String(v) },
          grid: { display: false, drawTicks: false },
          border: { display: false }
        },
        y: {
          type: 'linear', position: 'left', min: Y_MIN, max: Y_MAX,
          afterBuildTicks: s => { s.ticks = yTicks.map(v => ({ value: v })); },
          afterFit: s => { s.width = AX_L; },
          ticks: { padding: 10, color: '#000', font: tickFont, callback: v => (v < 0 ? '- ' + Math.abs(v) : String(v)) },
          grid: { display: false, drawTicks: false },
          border: { display: false }
        }
      }
    },
    plugins: [panelDecor]
  });
}

const dorisSeries = [
  [northDorisYears, northDorisCm],
  [eastDorisYears, eastDorisCm],
  [heightDorisYears, heightDorisCm]
];
const gpsSeries = [
  [[northJplYears, northJplCm], [northCodeYears, northCodeCm]],
  [[eastJplYears, eastJplCm], [eastCodeYears, eastCodeCm]],
  [[heightJplYears, heightJplCm], [heightCodeYears, heightCodeCm]]
];
const vlbiSeries = [
  [northVlbiYears, northVlbiCm],
  [eastVlbiYears, eastVlbiCm],
  [heightVlbiYears, heightVlbiCm]
];

for (let c = 0; c < 3; c++) {
  panel(0, c, [series(dorisSeries[c][0], dorisSeries[c][1], BLUE, 3.2)], {
    topTicks: labelYears.slice(1),
    change: { year: stationChange[c], labelAt: stationLabelAt[c], before: stations[0], after: stations[1] }
  });
  panel(1, c, [
    series(gpsSeries[c][0][0], gpsSeries[c][0][1], GREEN, 2.4),
    series(gpsSeries[c][1][0], gpsSeries[c][1][1], BLUE, 2.8)
  ], { bottomTicks: [2000] });
  panel(2, c, [series(vlbiSeries[c][0], vlbiSeries[c][1], BLUE, 3.0)], {});
}
</script>
</body>
</html>
